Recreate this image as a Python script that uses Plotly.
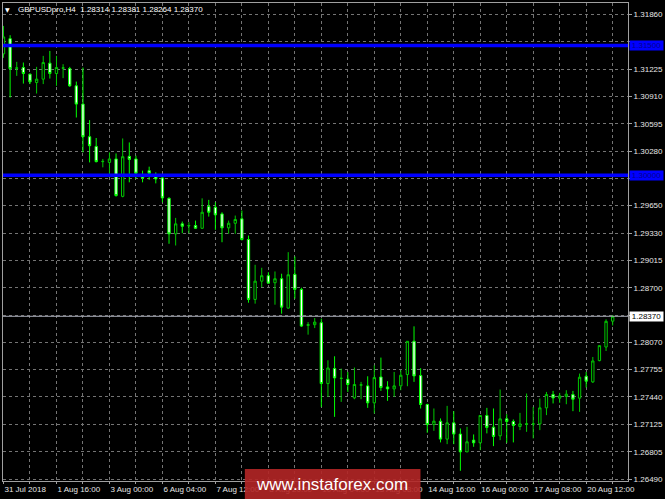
import plotly.graph_objects as go

symbol_title = "GBPUSDpro,H4  1.28314 1.28381 1.28264 1.28370"

bar_index = list(range(93))
opens = [1.31402, 1.31578, 1.31235, 1.31244, 1.31168, 1.31071, 1.31110, 1.31295, 1.31175, 1.31237,
         1.31232, 1.31033, 1.30822, 1.30445, 1.30333, 1.30157, 1.30148, 1.30188, 1.29756, 1.30218,
         1.30188, 1.29995, 1.30053, 1.29987, 1.29969, 1.29733, 1.29323, 1.29438, 1.29415, 1.29419,
         1.29387, 1.29638, 1.29630, 1.29553, 1.29392, 1.29445, 1.29496, 1.29257, 1.28565, 1.28776,
         1.28839, 1.28758, 1.28804, 1.28465, 1.28854, 1.28681, 1.28265, 1.28273, 1.28296, 1.27593,
         1.27766, 1.27651, 1.27643, 1.27427, 1.27574, 1.27566, 1.27370, 1.27669, 1.27554, 1.27531,
         1.27566, 1.27697, 1.28081, 1.27685, 1.27351, 1.27120, 1.27158, 1.26951, 1.27139, 1.27009,
         1.26804, 1.26939, 1.26908, 1.27224, 1.27089, 1.26989, 1.27185, 1.27155, 1.27097, 1.27124,
         1.27124, 1.27127, 1.27312, 1.27466, 1.27424, 1.27443, 1.27466, 1.27424, 1.27677, 1.27612,
         1.27858, 1.28015, 1.28314]
highs = [1.31725, 1.31618, 1.31310, 1.31302, 1.31175, 1.31252, 1.31379, 1.31436, 1.31379, 1.31283,
         1.31252, 1.31082, 1.31244, 1.30637, 1.30430, 1.30188, 1.30264, 1.30252, 1.30425, 1.30379,
         1.30226, 1.30053, 1.30099, 1.30033, 1.29995, 1.29745, 1.29507, 1.29465, 1.29457, 1.29476,
         1.29733, 1.29715, 1.29687, 1.29572, 1.29476, 1.29534, 1.29592, 1.29303, 1.28965, 1.28931,
         1.28880, 1.28888, 1.28862, 1.29111, 1.29061, 1.28700, 1.28303, 1.28350, 1.28343, 1.27862,
         1.27908, 1.27766, 1.27727, 1.27778, 1.27612, 1.27677, 1.27804, 1.27893, 1.27620, 1.27727,
         1.27747, 1.28081, 1.28254, 1.27770, 1.27360, 1.27305, 1.27190, 1.27335, 1.27274, 1.27074,
         1.27093, 1.27005, 1.27230, 1.27312, 1.27305, 1.27524, 1.27239, 1.27178, 1.27254, 1.27478,
         1.27323, 1.27420, 1.27496, 1.27508, 1.27485, 1.27516, 1.27508, 1.27708, 1.27727, 1.27900,
         1.28035, 1.28335, 1.28381]
lows = [1.31356, 1.30898, 1.31148, 1.31059, 1.31053, 1.30944, 1.31053, 1.31117, 1.31033, 1.31122,
        1.31021, 1.30667, 1.30264, 1.30148, 1.30148, 1.30091, 1.29976, 1.29753, 1.29745, 1.29918,
        1.29961, 1.29918, 1.29946, 1.29906, 1.29687, 1.29208, 1.29188, 1.29330, 1.29330, 1.29381,
        1.29381, 1.29522, 1.29369, 1.29226, 1.29323, 1.29323, 1.29246, 1.28527, 1.28516, 1.28707,
        1.28750, 1.28504, 1.28400, 1.28458, 1.28573, 1.28246, 1.28158, 1.28234, 1.27323, 1.27439,
        1.27208, 1.27381, 1.27496, 1.27412, 1.27412, 1.27312, 1.27247, 1.27508, 1.27393, 1.27439,
        1.27516, 1.27562, 1.27612, 1.27305, 1.27024, 1.27047, 1.26913, 1.26893, 1.26893, 1.26585,
        1.26800, 1.26862, 1.26824, 1.27017, 1.26870, 1.26939, 1.26908, 1.26913, 1.27055, 1.27035,
        1.26959, 1.27055, 1.27228, 1.27363, 1.27370, 1.27354, 1.27274, 1.27266, 1.27547, 1.27600,
        1.27850, 1.27969, 1.28264]
closes = [1.31598, 1.31232, 1.31240, 1.31175, 1.31079, 1.31110, 1.31302, 1.31175, 1.31244, 1.31240,
          1.31033, 1.30822, 1.30445, 1.30341, 1.30157, 1.30160, 1.30188, 1.29765, 1.30214, 1.30183,
          1.30022, 1.29969, 1.30022, 1.29957, 1.29738, 1.29323, 1.29438, 1.29410, 1.29418, 1.29387,
          1.29572, 1.29572, 1.29542, 1.29392, 1.29445, 1.29488, 1.29257, 1.28565, 1.28776, 1.28839,
          1.28753, 1.28804, 1.28476, 1.28850, 1.28681, 1.28257, 1.28273, 1.28303, 1.27593, 1.27773,
          1.27658, 1.27654, 1.27582, 1.27582, 1.27578, 1.27370, 1.27662, 1.27547, 1.27531, 1.27566,
          1.27689, 1.28081, 1.27681, 1.27351, 1.27120, 1.27158, 1.26951, 1.27139, 1.27009, 1.26804,
          1.26920, 1.26908, 1.27224, 1.27086, 1.26982, 1.27185, 1.27155, 1.27109, 1.27127, 1.27127,
          1.27127, 1.27312, 1.27466, 1.27427, 1.27450, 1.27470, 1.27412, 1.27666, 1.27620, 1.27854,
          1.28031, 1.28312, 1.28370]

time_label_bars = [0, 8, 16, 24, 32, 40, 48, 56, 64, 72, 80, 88]
time_labels = ["31 Jul 2018", "1 Aug 16:00", "3 Aug 00:00", "6 Aug 04:00", "7 Aug 12:00",
               "8 Aug 20:00", "10 Aug 04:00", "13 Aug 08:00", "14 Aug 16:00", "16 Aug 00:00",
               "17 Aug 08:00", "20 Aug 12:00"]
price_ticks = [1.31860, 1.31540, 1.31225, 1.30910, 1.30595, 1.30280, 1.29965, 1.29650, 1.29330,
               1.29015, 1.28700, 1.28385, 1.28070, 1.27755, 1.27440, 1.27125, 1.26805, 1.26490]
hidden_price_ticks = [1.31540, 1.29965, 1.28385]
level_prices = [1.31500, 1.30000]
watermark = "www.instaforex.com"

FONT = "Liberation Sans, Arial, sans-serif"

grid_bars = list(range(0, 93, 4))
label_map = dict(zip(time_label_bars, time_labels))
grid_text = [label_map.get(b, "") for b in grid_bars]
price_text = ["" if p in hidden_price_ticks else f"{p:.5f}" for p in price_ticks]

fig = go.Figure()
fig.add_trace(go.Candlestick(
    x=bar_index, open=opens, high=highs, low=lows, close=closes,
    increasing=dict(line=dict(color="#00c800", width=1), fillcolor="#000000"),
    decreasing=dict(line=dict(color="#00ff00", width=1), fillcolor="#ffffff"),
    whiskerwidth=0, hoverinfo="skip", showlegend=False,
))

W, H = 665, 499
ml, mr, mt, mb = 2, 35, 2, 18
plot_w = W - ml - mr
plot_h = H - mt - mb

shapes = []
for lv in level_prices:
    shapes.append(dict(type="line", xref="paper", yref="y", x0=0, x1=1, y0=lv, y1=lv,
                       line=dict(color="#0000ff", width=3.5), layer="above"))
last_close = closes[-1]
shapes.append(dict(type="line", xref="paper", yref="y", x0=0, x1=1, y0=last_close, y1=last_close,
                   line=dict(color="#a8acb8", width=1), layer="above"))
# watermark box
shapes.append(dict(type="rect", xref="paper", yref="paper",
                   x0=(245 - ml) / plot_w, x1=(421.5 - ml) / plot_w,
                   y0=(H - mb - 499) / plot_h, y1=(H - mb - 469) / plot_h,
                   fillcolor="rgba(180,38,38,0.9)", line=dict(width=0), layer="above"))

annotations = []
for lv in level_prices:
    annotations.append(dict(xref="paper", yref="y", x=1, y=lv, xanchor="left", yanchor="middle",
                            text=f"{lv:.5f}", showarrow=False, bgcolor="#0000ff",
                            font=dict(family=FONT, size=8, color="#000090"),
                            width=33, height=9, borderpad=0, xshift=1))
annotations.append(dict(xref="paper", yref="y", x=1, y=last_close, xanchor="left", yanchor="middle",
                        text=f"{last_close:.5f}", showarrow=False, bgcolor="#ffffff",
                        font=dict(family=FONT, size=8, color="#000000"),
                        width=33, height=9, borderpad=0, xshift=1))
annotations.append(dict(xref="paper", yref="paper", x=(7 - ml) / plot_w, y=1 - 6.5 / plot_h,
                        xanchor="center", yanchor="middle", text="▼", showarrow=False,
                        font=dict(family="DejaVu Sans", size=6, color="#ffffff")))
annotations.append(dict(xref="paper", yref="paper", x=(15 - ml) / plot_w, y=1 - 6.5 / plot_h,
                        xanchor="left", yanchor="middle", text=symbol_title, showarrow=False,
                        font=dict(family=FONT, size=8, color="#ffffff")))
annotations.append(dict(xref="paper", yref="paper", x=(333 - ml) / plot_w, y=(H - mb - 485) / plot_h,
                        xanchor="center", yanchor="middle", text=watermark, showarrow=False,
                        font=dict(family=FONT, size=17, color="#ffffff")))

fig.update_layout(
    width=W, height=H,
    margin=dict(l=ml, r=mr, t=mt, b=mb, pad=0),
    paper_bgcolor="#000000", plot_bgcolor="#000000",
    boxgap=0.5,
    showlegend=False,
    shapes=shapes, annotations=annotations,
    xaxis=dict(
        range=[-0.075, 94.315], rangeslider=dict(visible=False),
        tickmode="array", tickvals=grid_bars, ticktext=grid_text,
        ticklabelposition="outside right", tickangle=0,
        showgrid=True, gridcolor="#747474", griddash="3px,3px", gridwidth=1,
        showline=True, mirror=True, linecolor="#a0a0a0", linewidth=1,
        ticks="outside", ticklen=2, tickcolor="#a0a0a0",
        tickfont=dict(family=FONT, size=8, color="#e6e6e6"),
        zeroline=False, fixedrange=True,
    ),
    yaxis=dict(
        range=[1.26467, 1.31990], side="right",
        tickmode="array", tickvals=price_ticks, ticktext=price_text,
        showgrid=True, gridcolor="#747474", griddash="3px,3px", gridwidth=1,
        showline=True, mirror=True, linecolor="#a0a0a0", linewidth=1,
        ticks="outside", ticklen=3, tickcolor="#a0a0a0",
        tickfont=dict(family=FONT, size=8, color="#e6e6e6"),
        zeroline=False, fixedrange=True,
    ),
)

fig.write_html("out.html", config={"displayModeBar": False},
               post_script="document.body.style.margin='0';document.body.style.overflow='hidden';")
